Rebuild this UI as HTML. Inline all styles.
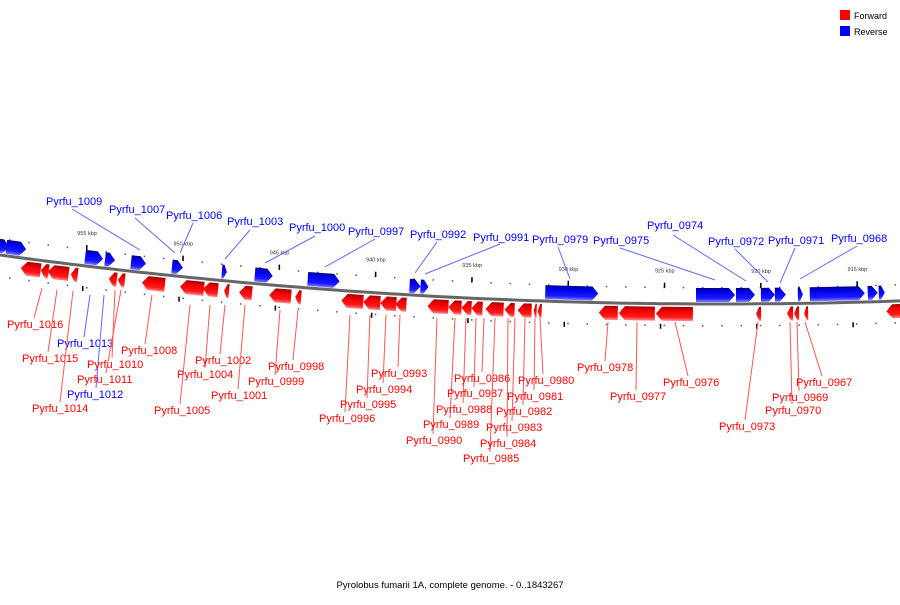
<!DOCTYPE html>
<html><head><meta charset="utf-8"><style>
body{margin:0;background:#fff;width:900px;height:600px;overflow:hidden}
svg{font-family:"Liberation Sans",sans-serif}
</style></head><body>
<svg id="map" width="900" height="600" viewBox="0 0 900 600">
<defs>
<linearGradient id="gb" x1="0" y1="0" x2="0" y2="1"><stop offset="0" stop-color="#00008c"/><stop offset="0.3" stop-color="#0000ee"/><stop offset="0.75" stop-color="#1a1aff"/><stop offset="1" stop-color="#8080ff"/></linearGradient>
<linearGradient id="gr" x1="0" y1="0" x2="0" y2="1"><stop offset="0" stop-color="#a00000"/><stop offset="0.3" stop-color="#ee0000"/><stop offset="0.75" stop-color="#ff1a1a"/><stop offset="1" stop-color="#ff8a8a"/></linearGradient>
</defs>
<g id="ticks"></g>
<g id="genes"></g>
<g id="labels"></g>
<g>
<rect x="840" y="10" width="10" height="10" fill="#ff0000"/>
<text x="854" y="19" font-size="9">Forward</text>
<rect x="840" y="26" width="10" height="10" fill="#0000ff"/>
<text x="854" y="35" font-size="9">Reverse</text>
</g>
<text x="450" y="588" font-size="9.5" text-anchor="middle">Pyrolobus fumarii 1A, complete genome. - 0..1843267</text>
</svg>
<script>
const NS="http://www.w3.org/2000/svg";
const kbpLabels=[955,950,945,940,935,930,925,920,915];
const blueGenes=[[-5,8],[5,25],[84,102],[104,114],[130,145],[171,182],[221,226],[254,272],[307,339],[409,420],[420,428],[545,598],[696,735],[736,755],[761,775],[775,786],[798,803],[810,865],[868,878],[879,885]];
const redGenes=[[22,42],[42,50],[49,70],[72,79],[110,118],[119,126],[143,166],[181,205],[204,219],[225,230],[240,253],[270,292],[296,302],[342,364],[364,381],[381,397],[396,407],[428,449],[449,462],[462,472],[472,483],[486,504],[505,515],[518,532],[534,537],[538,542],[599,618],[619,655],[656,693],[756,761],[787,793],[794,799],[804,808],[886,905]];
const blueLabelNames=["Pyrfu_1009","Pyrfu_1007","Pyrfu_1006","Pyrfu_1003","Pyrfu_1000","Pyrfu_0997","Pyrfu_0992","Pyrfu_0991","Pyrfu_0979","Pyrfu_0975","Pyrfu_0974","Pyrfu_0972","Pyrfu_0971","Pyrfu_0968","Pyrfu_1013","Pyrfu_1012"];
const blueLabelPos=[[46,205,72,209,140,250],[109,213,135,218,175,253],[166,219,193,223,180,253],[227,225,250,230,225,259],[289,231,315,236,265,263],[348,235,375,239,325,267],[410,238,437,242,415,273],[473,241,500,244,425,274],[532,243,558,247,570,279],[593,244,620,248,715,280],[647,229,673,235,746,281],[708,245,735,249,768,282],[768,244,795,248,780,283],[831,242,857,246,800,279],[57,347,84,337,90,295],[67,398,96,388,104,295]];
const redLabelNames=["Pyrfu_1016","Pyrfu_1015","Pyrfu_1014","Pyrfu_1010","Pyrfu_1011","Pyrfu_1008","Pyrfu_1005","Pyrfu_1004","Pyrfu_1002","Pyrfu_1001","Pyrfu_0999","Pyrfu_0998","Pyrfu_0996","Pyrfu_0995","Pyrfu_0994","Pyrfu_0993","Pyrfu_0990","Pyrfu_0989","Pyrfu_0988","Pyrfu_0987","Pyrfu_0986","Pyrfu_0985","Pyrfu_0984","Pyrfu_0983","Pyrfu_0982","Pyrfu_0981","Pyrfu_0980","Pyrfu_0978","Pyrfu_0977","Pyrfu_0976","Pyrfu_0973","Pyrfu_0970","Pyrfu_0969","Pyrfu_0967"];
const redLabelPos=[[7,328,34,318,42,288],[22,362,48,352,57,290],[32,412,60,402,73,291],[87,368,112,358,115,290],[77,383,106,373,121,290],[121,354,145,344,152,295],[154,414,180,404,190,305],[177,378,205,368,210,305],[195,364,220,354,225,305],[211,399,238,389,245,305],[248,385,275,375,280,310],[268,370,293,360,298,310],[319,422,345,412,350,315],[340,408,367,398,370,315],[356,393,383,383,386,315],[371,377,398,367,400,315],[406,444,433,434,437,318],[423,428,450,418,455,318],[436,413,463,403,466,318],[447,397,474,387,476,318],[454,382,482,372,484,318],[463,462,490,452,495,318],[480,447,507,437,508,318],[486,431,512,421,515,318],[496,415,523,405,525,318],[507,400,534,390,535,318],[518,384,543,374,540,318],[577,371,605,361,608,322],[610,400,636,390,637,322],[663,386,688,376,675,322],[719,430,745,420,758,322],[765,414,792,404,790,322],[772,401,799,391,797,322],[796,386,822,376,805,322]];
function cy(x){return 304-9.45e-5*(x-720)*(x-720);}
function mk(tag,attrs,parent){const e=document.createElementNS(NS,tag);for(const k in attrs)e.setAttribute(k,attrs[k]);parent.appendChild(e);return e;}
const T=document.getElementById('ticks'),G=document.getElementById('genes'),L=document.getElementById('labels');
let d="";for(let x=0;x<=900;x+=10){d+=(x?"L":"M")+x+","+cy(x).toFixed(1);}
const bb=mk('path',{d:d,stroke:"#666",'stroke-width':3,fill:"none"},T);


for(let x=9;x<900;x+=19.25){
 const a=mk('rect',{x:x,y:cy(x)-17,width:1.5,height:1.5,fill:"#555"},T);
 
 
 const b=mk('rect',{x:x,y:cy(x)+21,width:1.5,height:1.5,fill:"#555"},T);
 
 
}
kbpLabels.forEach((k,i)=>{
 const x=86+i*96.3;
 const t=mk('rect',{x:x,y:cy(x)-21,width:1.5,height:5,fill:"#000"},T);
 
 
 const t2=mk('rect',{x:x-4,y:cy(x)+20,width:1.5,height:5,fill:"#000"},T);
 
 
 const tx=mk('text',{x:x+1,y:cy(x)-31,'font-size':5.5,'text-anchor':'middle',fill:"#333"},T);
 tx.textContent=k+" kbp";
 
 
});
function gene(g,fwd){
 const x0=g[0],x1=g[1],w=x1-x0,h=14,hw=Math.min(6,w*0.6);
 const c=cy((x0+x1)/2);
 const top=fwd?c+3:c-h-2;
 let pts;
 if(fwd){pts=[[x0,top+h/2],[x0+hw,top],[x1,top],[x1,top+h],[x0+hw,top+h]];}
 else{pts=[[x0,top],[x1-hw,top],[x1,top+h/2],[x1-hw,top+h],[x0,top+h]];}
 const ang=Math.atan(-2*9.45e-5*((x0+x1)/2-720))*180/Math.PI;
 const p=mk('polygon',{points:pts.map(q=>q.join(",")).join(" "),fill:fwd?"url(#gr)":"url(#gb)",transform:`rotate(${ang.toFixed(2)} ${(x0+x1)/2} ${c})`},G);
 
 
}
blueGenes.forEach(g=>gene(g,false));
redGenes.forEach(g=>gene(g,true));
function lab(name,pos,col,lc){
 const l=mk('line',{x1:pos[2],y1:pos[3],x2:pos[4],y2:pos[5],stroke:lc,'stroke-width':1},L);
 
 
 const t=mk('text',{x:pos[0],y:pos[1],'font-size':11,fill:col},L);
 t.textContent=name;
 
 
}
blueLabelNames.forEach((n,i)=>lab(n,blueLabelPos[i],"#0000ff","#6666ff"));
redLabelNames.forEach((n,i)=>lab(n,redLabelPos[i],"#ff0000","#ff5555"));
</script>
</body></html>
